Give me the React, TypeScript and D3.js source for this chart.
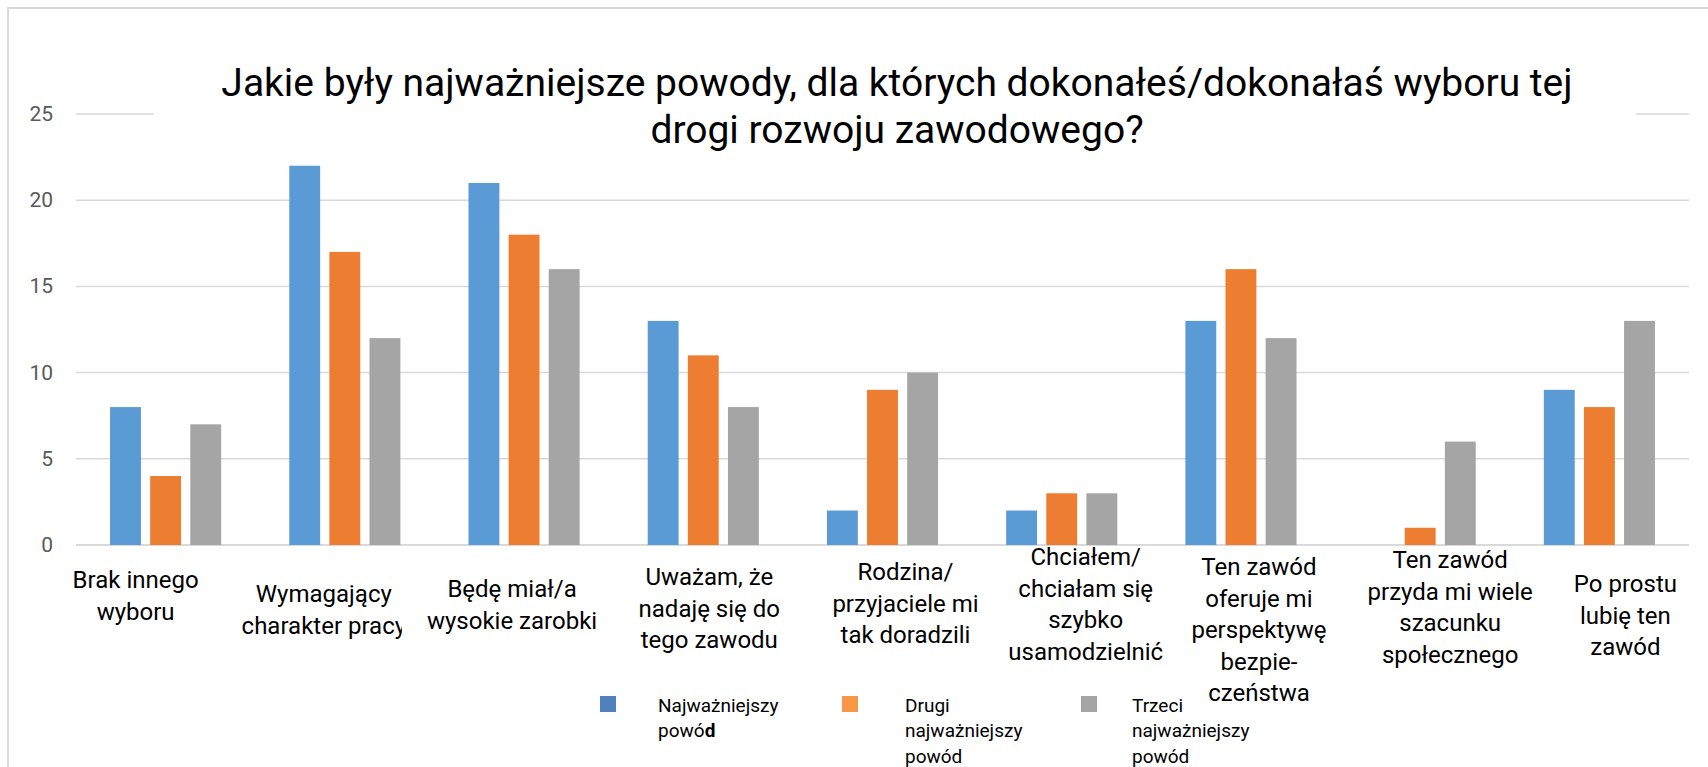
import React from 'react';
import * as d3 from 'd3';

const WIDTH = 1708;
const HEIGHT = 767;
const PLOT = { left: 76, right: 1689, top: 114, bottom: 545 };

const CATEGORIES = [
  ['Brak innego', 'wyboru'],
  ['Wymagający', 'charakter pracy'],
  ['Będę miał/a', 'wysokie zarobki'],
  ['Uważam, że', 'nadaję się do', 'tego zawodu'],
  ['Rodzina/', 'przyjaciele mi', 'tak doradzili'],
  ['Chciałem/', 'chciałam się', 'szybko', 'usamodzielnić'],
  ['Ten zawód', 'oferuje mi', 'perspektywę', 'bezpie-', 'czeństwa'],
  ['Ten zawód', 'przyda mi wiele', 'szacunku', 'społecznego'],
  ['Po prostu', 'lubię ten', 'zawód'],
];

const SERIES = ['Najważniejszy powód', 'Drugi najważniejszy powód', 'Trzeci najważniejszy powód'];
const NAJWAZNIEJSZY = [8, 22, 21, 13, 2, 2, 13, 0, 9];
const DRUGI = [4, 17, 18, 11, 9, 3, 16, 1, 8];
const TRZECI = [7, 12, 16, 8, 10, 3, 12, 6, 13];
const Y_TICKS = [0, 5, 10, 15, 20, 25];

const TITLE = [
  'Jakie były najważniejsze powody, dla których dokonałeś/dokonałaś wyboru tej',
  'drogi rozwoju zawodowego?',
];

const COLORS = ['#5B9BD5', '#ED7D31', '#A5A5A5'];
const LEGEND_COLORS = ['#4F81BD', '#F79646', '#A5A5A5'];

// label placement quirks of the original (labels are not centred on their bars)
const LABEL_DX = [-30, -21, -12, 6, 23, 24, 18, 30, 26];
const LABEL_Y = [588, 602, 597, 585, 580, 565, 575, 568, 592];
const FONT = 'Roboto, "Liberation Sans", Arial, sans-serif';

const App = () => {
  const values = [NAJWAZNIEJSZY, DRUGI, TRZECI];

  const xScale = d3
    .scaleBand()
    .domain(CATEGORIES.map((_, i) => String(i)))
    .range([PLOT.left, PLOT.right])
    .paddingInner(0.38)
    .paddingOuter(0.19);

  const xInner = d3
    .scaleBand()
    .domain(SERIES)
    .range([0, xScale.bandwidth()])
    .paddingInner(0.23)
    .paddingOuter(0);

  const yScale = d3.scaleLinear().domain([0, 25]).range([PLOT.bottom, PLOT.top]);

  const grid = Y_TICKS.map((t) => (
    <g key={t}>
      <line
        x1={PLOT.left}
        x2={PLOT.right}
        y1={yScale(t)}
        y2={yScale(t)}
        stroke="#d9d9d9"
        strokeWidth={t === 0 ? 2 : 1.5}
      />
      <text
        x={53}
        y={yScale(t)}
        textAnchor="end"
        dominantBaseline="central"
        fontSize={21}
        fill="#595959"
        fontFamily={FONT}
      >
        {t}
      </text>
    </g>
  ));

  const bars = CATEGORIES.map((_, ci) =>
    SERIES.map((s, si) => {
      const v = values[si][ci];
      if (!v) return null;
      return (
        <rect
          key={ci + '-' + si}
          x={(xScale(String(ci)) ?? 0) + (xInner(s) ?? 0)}
          y={yScale(v)}
          width={xInner.bandwidth()}
          height={yScale(0) - yScale(v)}
          fill={COLORS[si]}
        />
      );
    })
  );

  const labels = CATEGORIES.map((lines, ci) => {
    const cx = (xScale(String(ci)) ?? 0) + xScale.bandwidth() / 2 + LABEL_DX[ci];
    return (
      <text
        key={ci}
        textAnchor="middle"
        fontSize={24}
        fill="#000"
        fontFamily={FONT}
        clipPath={ci === 1 ? 'url(#clipLabel1)' : undefined}
      >
        {lines.map((l, li) => (
          <tspan key={li} x={cx} y={LABEL_Y[ci] + li * 31.5}>
            {l}
          </tspan>
        ))}
      </text>
    );
  });

  const label1Right = (xScale('1') ?? 0) + xScale.bandwidth() / 2 + LABEL_DX[1] + 78;

  const legendX = [600, 842, 1081];
  const legendTextX = [658, 905, 1132];
  const legendLines = [
    ['Najważniejszy', 'powó'],
    ['Drugi', 'najważniejszy', 'powód'],
    ['Trzeci', 'najważniejszy', 'powód'],
  ];

  return (
    <svg
      width={WIDTH}
      height={HEIGHT}
      style={{ position: 'absolute', left: 0, top: 0, background: '#fff' }}
    >
      <defs>
        <clipPath id="clipLabel1">
          <rect x={0} y={0} width={label1Right} height={HEIGHT} />
        </clipPath>
      </defs>
      <rect x={0} y={0} width={WIDTH} height={HEIGHT} fill="#fff" />
      <rect x={8} y={8} width={WIDTH + 20} height={HEIGHT + 20} fill="none" stroke="#d9d9d9" strokeWidth={2} />
      {grid}
      {/* title box hides the top gridline */}
      <rect x={154} y={30} width={1636 - 154} height={120} fill="#fff" />
      {bars}
      {labels}
      <g fontFamily={FONT} textAnchor="middle" fontSize={39} fill="#000">
        {TITLE.map((t, i) => (
          <text key={i} x={897} y={96 + i * 47}>
            {t}
          </text>
        ))}
      </g>
      <g fontFamily={FONT} fontSize={19} fill="#000">
        {SERIES.map((s, si) => (
          <g key={s}>
            <rect x={legendX[si]} y={696} width={16} height={16} fill={LEGEND_COLORS[si]} />
            <text>
              {legendLines[si].map((l, li) => (
                <tspan key={li} x={legendTextX[si]} y={711.5 + li * 25.6}>
                  {l}
                  {si === 0 && li === 1 ? <tspan fontWeight="bold">d</tspan> : null}
                </tspan>
              ))}
            </text>
          </g>
        ))}
      </g>
    </svg>
  );
};

export default App;
